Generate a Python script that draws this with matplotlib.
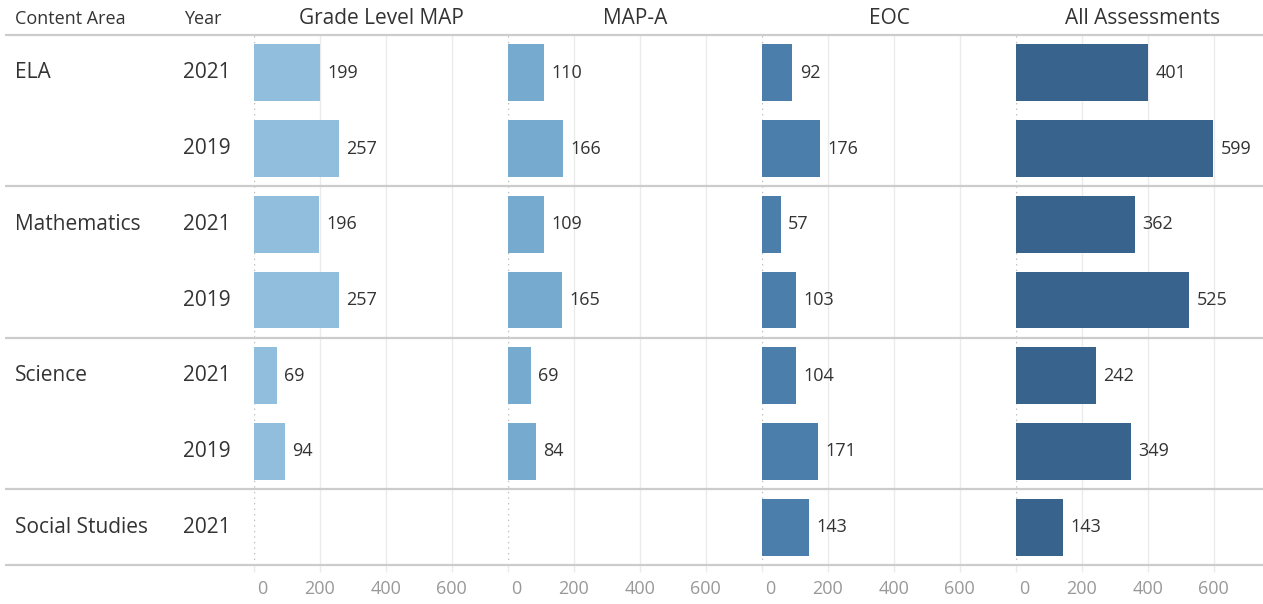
import numpy as np
import matplotlib
matplotlib.use("Agg")
import matplotlib.pyplot as plt
from matplotlib.transforms import ScaledTranslation

# ---- data -------------------------------------------------------------
content_area = ["ELA", "", "Mathematics", "", "Science", "", "Social Studies"]
years = ["2021", "2019", "2021", "2019", "2021", "2019", "2021"]
grade_level_map = [199, 257, 196, 257, 69, 94, np.nan]
map_a = [110, 166, 109, 165, 69, 84, np.nan]
eoc = [92, 176, 57, 103, 104, 171, 143]
all_assessments = [401, 599, 362, 525, 242, 349, 143]
panel_titles = ["Grade Level MAP", "MAP-A", "EOC", "All Assessments"]
panel_colors = ["#92bedd", "#77aacf", "#4c7eab", "#37638d"]
tick_values = [0, 200, 400, 600]
group_breaks = [2, 4, 6]  # row indices where a new content area starts

# ---- layout (pixels) --------------------------------------------------
W, H, DPI = 1263, 604, 100
TOP, BOTTOM = 35, 565
PANEL_X0, PANEL_W = 254, 254
PX_PER_UNIT = 0.3294
XMAX = PANEL_W / PX_PER_UNIT
TEXT = "#333333"

plt.rcParams["font.family"] = ["Open Sans", "DejaVu Sans"]
fig = plt.figure(figsize=(W / DPI, H / DPI), dpi=DPI)
fig.patch.set_facecolor("white")

n = len(years)
rows = np.arange(n)
series = [grade_level_map, map_a, eoc, all_assessments]

for k, (vals, color) in enumerate(zip(series, panel_colors)):
    x0 = PANEL_X0 + PANEL_W * k
    ax = fig.add_axes([x0 / W, (H - BOTTOM) / H, PANEL_W / W, (BOTTOM - TOP) / H])
    ax.set_xlim(0, XMAX)
    ax.set_ylim(n - 0.5, -0.5)
    ax.patch.set_alpha(0)
    for s in ax.spines.values():
        s.set_visible(False)
    ax.set_axisbelow(True)
    ax.grid(axis="x", color="#ebebeb", lw=1)
    ax.grid(axis="y", visible=False)
    ax.set_xticks(tick_values)
    ax.set_xticklabels([str(t) for t in tick_values])
    ax.tick_params(axis="x", length=5, width=1, color="#ebebeb",
                   labelsize=13, labelcolor="#999999", pad=6)
    ax.tick_params(axis="y", left=False, labelleft=False)
    ax.get_xgridlines()[0].set_linestyle((0, (1, 3)))
    ax.get_xgridlines()[0].set_color("#bdbdbd")
    # the zero label sits just inside the panel edge
    lab0 = ax.get_xticklabels()[0]
    lab0.set_transform(lab0.get_transform() + ScaledTranslation(8 / DPI, 0, fig.dpi_scale_trans))

    ax.barh(rows, vals, height=0.75, color=color, edgecolor="none")
    for yi, v in zip(rows, vals):
        if np.isnan(v):
            continue
        ax.annotate(f"{int(v)}", (v, yi), xytext=(5.4, 0), textcoords="offset points",
                    ha="left", va="center", fontsize=13, color=TEXT)

# overlay in pixel coordinates for headers, row labels and separators
ov = fig.add_axes([0, 0, 1, 1], zorder=10)
ov.set_xlim(0, W)
ov.set_ylim(H, 0)
ov.axis("off")
ov.patch.set_alpha(0)

row_h = (BOTTOM - TOP) / n
sep_rows = [0] + group_breaks + [n]
for r in sep_rows:
    y = TOP + r * row_h
    ov.plot([5, W], [y, y], color="#cccccc", lw=1.6, solid_capstyle="butt")

ov.text(15, 19, "Content Area", fontsize=13, color=TEXT, ha="left", va="center")
ov.text(184, 19, "Year", fontsize=13, color=TEXT, ha="left", va="center")
for k, title in enumerate(panel_titles):
    cx = PANEL_X0 + PANEL_W * k + PANEL_W / 2
    ov.text(cx, 18, title, fontsize=15, color=TEXT, ha="center", va="center")

for i in range(n):
    yc = TOP + (i + 0.5) * row_h
    if content_area[i]:
        ov.text(15, yc, content_area[i], fontsize=15, color=TEXT, ha="left", va="center")
    ov.text(183, yc, years[i], fontsize=15, color=TEXT, ha="left", va="center")

fig.savefig("out.png", dpi=DPI, facecolor="white")
